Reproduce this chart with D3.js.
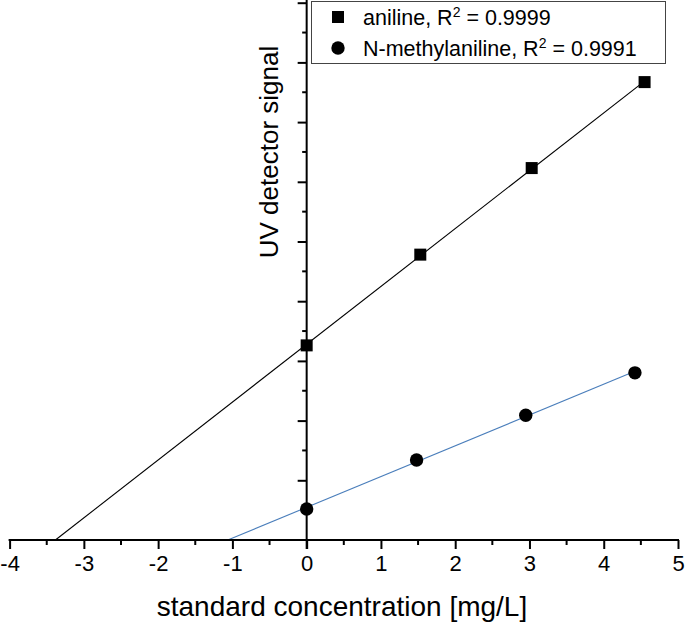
<!DOCTYPE html>
<html>
<head>
<meta charset="utf-8">
<script src="https://cdn.jsdelivr.net/npm/d3@7"></script>
<style>
  html, body { margin: 0; padding: 0; background: #fff; }
  svg { display: block; }
  text { font-family: "Liberation Sans", Arial, sans-serif; fill: #000; }
</style>
</head>
<body>
<svg id="chart" width="685" height="627"></svg>
<script>
// ---- data ----
const anilineX = [0, 1.53, 3.03, 4.55];
const anilineY = [3.26, 4.78, 6.23, 7.67];
const nmaX = [0, 1.48, 2.95, 4.42];
const nmaY = [0.52, 1.34, 2.09, 2.80];
const seriesNames = ["aniline", "N-methylaniline"];
const r2Labels = ["0.9999", "0.9991"];
const xTicks = [-4, -3, -2, -1, 0, 1, 2, 3, 4, 5];
const xLabel = "standard concentration [mg/L]";
const yLabel = "UV detector signal";

const svg = d3.select("#chart");
const x = d3.scaleLinear().domain([-4, 5]).range([9.6, 678]);
const y = d3.scaleLinear().domain([0, 9]).range([540, 2.7]);

// least-squares fit
function fit(xs, ys) {
  const mx = d3.mean(xs), my = d3.mean(ys);
  let sxy = 0, sxx = 0;
  xs.forEach((v, i) => { sxy += (v - mx) * (ys[i] - my); sxx += (v - mx) * (v - mx); });
  const b = sxy / sxx, a = my - b * mx;
  return { a, b };
}

function drawFit(xs, ys, color) {
  const f = fit(xs, ys);
  const x0 = -f.a / f.b, x1 = d3.max(xs);
  svg.append("line")
    .attr("x1", x(x0)).attr("y1", y(f.a + f.b * x0))
    .attr("x2", x(x1)).attr("y2", y(f.a + f.b * x1))
    .attr("stroke", color).attr("stroke-width", 1.1);
}
drawFit(anilineX, anilineY, "#000");
drawFit(nmaX, nmaY, "#4a7ebb");

// x axis
const xAxisG = svg.append("g").attr("transform", `translate(0,${y(0)})`);
xAxisG.call(d3.axisBottom(x).tickValues(xTicks).tickFormat(d => String(d)).tickSize(9).tickPadding(6))
  .call(g => g.select(".domain").remove());
xAxisG.selectAll(".tick line").attr("stroke", "#000").attr("stroke-width", 2);
xAxisG.selectAll(".tick text").style("font-size", "22px").attr("font-family", "Liberation Sans, Arial, sans-serif");
xAxisG.append("g").selectAll("line")
  .data(d3.range(-3.5, 5, 1))
  .join("line")
  .attr("x1", d => x(d)).attr("x2", d => x(d))
  .attr("y1", 0).attr("y2", 5)
  .attr("stroke", "#000").attr("stroke-width", 2);
xAxisG.append("line").attr("x1", x(-4) - 1).attr("x2", x(5) + 1).attr("y1", 0).attr("y2", 0)
  .attr("stroke", "#000").attr("stroke-width", 2);

// y axis (no labels)
const yAxisG = svg.append("g").attr("transform", `translate(${x(0)},0)`);
yAxisG.call(d3.axisLeft(y).tickValues(d3.range(1, 10)).tickFormat("").tickSize(9))
  .call(g => g.select(".domain").remove());
yAxisG.selectAll(".tick line").attr("stroke", "#000").attr("stroke-width", 2);
yAxisG.append("g").selectAll("line")
  .data(d3.range(0.5, 9, 1))
  .join("line")
  .attr("x1", 0).attr("x2", -4.5)
  .attr("y1", d => y(d)).attr("y2", d => y(d))
  .attr("stroke", "#000").attr("stroke-width", 2);
yAxisG.append("line").attr("x1", 0).attr("x2", 0).attr("y1", 0).attr("y2", y(0) + 9)
  .attr("stroke", "#000").attr("stroke-width", 2);

// points
svg.append("g").selectAll("rect")
  .data(anilineX.map((v, i) => [v, anilineY[i]]))
  .join("rect")
  .attr("x", d => x(d[0]) - 6).attr("y", d => y(d[1]) - 6)
  .attr("width", 12).attr("height", 12).attr("fill", "#000");
svg.append("g").selectAll("circle")
  .data(nmaX.map((v, i) => [v, nmaY[i]]))
  .join("circle")
  .attr("cx", d => x(d[0])).attr("cy", d => y(d[1]))
  .attr("r", 6.7).attr("fill", "#000");

// labels
svg.append("text").attr("x", 342).attr("y", 616).attr("text-anchor", "middle")
  .style("font-size", "28px").text(xLabel);
svg.append("text").attr("transform", "translate(278,152) rotate(-90)").attr("text-anchor", "middle")
  .style("font-size", "26px").text(yLabel);

// legend
const leg = svg.append("g");
leg.append("rect").attr("x", 311.5).attr("y", 1.5).attr("width", 354).attr("height", 62)
  .attr("fill", "#fff").attr("stroke", "#444").attr("stroke-width", 1);
leg.append("rect").attr("x", 332).attr("y", 11).attr("width", 12).attr("height", 12).attr("fill", "#000");
leg.append("circle").attr("cx", 338).attr("cy", 48).attr("r", 6.7).attr("fill", "#000");
[0, 1].forEach(i => {
  const t = leg.append("text").attr("x", 363).attr("y", i === 0 ? 25 : 56).style("font-size", "21.5px");
  t.append("tspan").text(seriesNames[i] + ", R");
  t.append("tspan").attr("dy", -8).style("font-size", "14px").text("2");
  t.append("tspan").attr("dy", 8).text(" = " + r2Labels[i]);
});
</script>
</body>
</html>
